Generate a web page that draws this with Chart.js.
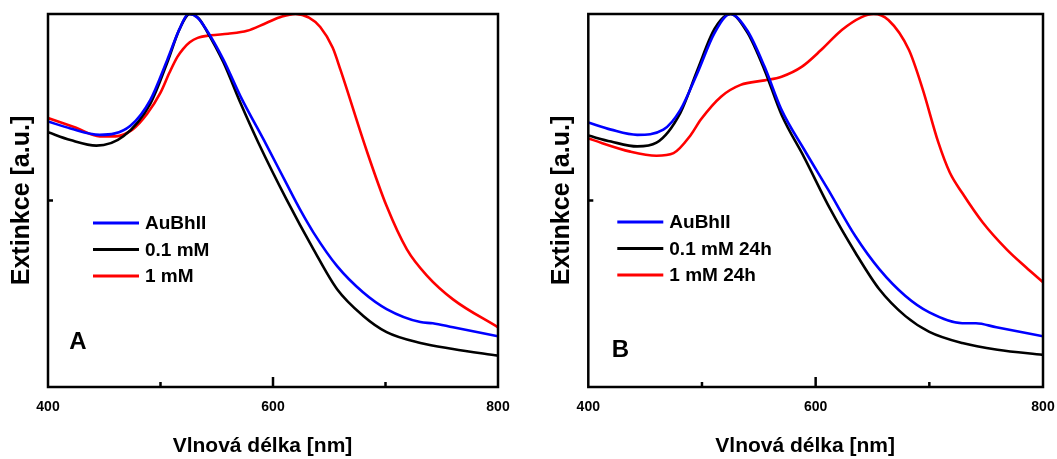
<!DOCTYPE html>
<html>
<head>
<meta charset="utf-8">
<script src="https://cdn.jsdelivr.net/npm/chart.js@4/dist/chart.umd.min.js"></script>
<style>
  html, body { margin: 0; padding: 0; background: #fff; }
  .panel { position: absolute; top: 0; }
</style>
</head>
<body>
<div class="panel" style="left:0"><canvas id="chartA" width="530" height="459"></canvas></div>
<div class="panel" style="left:530px"><canvas id="chartB" width="527" height="459"></canvas></div>
<script>
// Panel A
const wlA_AuBhII = [400, 420, 446, 473, 491, 506, 517, 525, 533, 541, 556, 571, 594, 612, 624, 636, 657, 680, 701, 731, 742, 760, 800];
const extA_AuBhII = [0.712, 0.693, 0.676, 0.70, 0.77, 0.877, 0.96, 1.0, 0.99, 0.957, 0.877, 0.78, 0.65, 0.545, 0.476, 0.414, 0.324, 0.254, 0.209, 0.174, 0.171, 0.160, 0.136];
const wlA_01 = [400, 420, 443, 467, 491, 506, 517, 526, 534, 541, 556, 571, 587, 612, 636, 657, 680, 701, 731, 760, 800];
const extA_01 = [0.683, 0.662, 0.647, 0.672, 0.76, 0.87, 0.96, 1.0, 0.988, 0.955, 0.87, 0.762, 0.655, 0.503, 0.369, 0.262, 0.191, 0.147, 0.118, 0.102, 0.084];
const wlA_1 = [400, 425, 446, 460, 475, 488, 500, 508, 515, 520, 526, 533, 545, 560, 577, 594, 608, 620, 632, 642, 653, 660, 683, 701, 719, 737, 760, 800];
const extA_1 = [0.721, 0.695, 0.672, 0.672, 0.69, 0.732, 0.789, 0.843, 0.885, 0.906, 0.924, 0.936, 0.943, 0.947, 0.955, 0.976, 0.993, 1.0, 0.99, 0.965, 0.91, 0.85, 0.636, 0.485, 0.369, 0.298, 0.235, 0.16];

// Panel B
const wlB_AuBhII = [400, 420, 443, 466, 481, 496, 511, 525, 540, 555, 570, 590, 611, 635, 656, 679, 700, 729, 741, 759, 800];
const extB_AuBhII = [0.709, 0.69, 0.676, 0.69, 0.743, 0.842, 0.949, 1.0, 0.955, 0.859, 0.743, 0.636, 0.529, 0.404, 0.316, 0.244, 0.2, 0.171, 0.171, 0.16, 0.136];
const wlB_01 = [400, 420, 443, 460, 481, 496, 511, 525, 540, 555, 570, 590, 613, 635, 656, 679, 700, 729, 760, 800];
const extB_01 = [0.674, 0.658, 0.645, 0.655, 0.735, 0.85, 0.96, 1.0, 0.95, 0.85, 0.73, 0.615, 0.476, 0.36, 0.262, 0.19, 0.148, 0.118, 0.1, 0.086];
const wlB_1 = [400, 437, 460, 475, 490, 499, 517, 534, 555, 570, 588, 605, 623, 640, 651, 664, 682, 694, 708, 718, 729, 747, 768, 785, 800];
const extB_1 = [0.666, 0.631, 0.620, 0.627, 0.675, 0.717, 0.779, 0.81, 0.822, 0.832, 0.859, 0.904, 0.957, 0.991, 1.0, 0.984, 0.904, 0.80, 0.655, 0.575, 0.52, 0.441, 0.369, 0.321, 0.281];

const labelsA = ['AuBhII', '0.1 mM', '1 mM'];
const labelsB = ['AuBhII', '0.1 mM 24h', '1 mM 24h'];
const xTickLabels = [400, 600, 800];
const colors = ['#0000ff', '#000000', '#ff0000'];
const FONT = 'Arial, "Liberation Sans", sans-serif';

function pts(xs, ys) {
    return xs.map((x, i) => ({ x: x, y: ys[i] }));
}

// frame, inward ticks, legend and panel letter
const framePlugin = {
    id: 'frame',
    afterDraw(chart, args, opts) {
        const ctx = chart.ctx;
        const a = chart.chartArea;
        const xs = chart.scales.x, ys = chart.scales.y;
        ctx.save();
        ctx.strokeStyle = '#000';
        ctx.lineWidth = 2.5;
        ctx.strokeRect(a.left, a.top, a.right - a.left, a.bottom - a.top);
        // x ticks (inward)
        [[500, 5], [600, 10], [700, 5]].forEach(([v, len]) => {
            const px = xs.getPixelForValue(v);
            ctx.beginPath();
            ctx.moveTo(px, a.bottom);
            ctx.lineTo(px, a.bottom - len);
            ctx.stroke();
        });
        // y tick
        const py = ys.getPixelForValue(0.5);
        ctx.beginPath();
        ctx.moveTo(a.left, py);
        ctx.lineTo(a.left + 5, py);
        ctx.stroke();

        // legend
        ctx.font = 'bold 19px ' + FONT;
        ctx.textBaseline = 'middle';
        ctx.textAlign = 'left';
        chart.data.datasets.forEach((ds, i) => {
            const y = a.top + opts.legY + i * 26.5;
            ctx.strokeStyle = ds.borderColor;
            ctx.lineWidth = 3;
            ctx.beginPath();
            ctx.moveTo(a.left + opts.legX, y);
            ctx.lineTo(a.left + opts.legX + 46, y);
            ctx.stroke();
            ctx.fillStyle = '#000';
            ctx.fillText(ds.label, a.left + opts.legX + 52, y + 1);
        });

        // panel letter
        ctx.font = 'bold 24px ' + FONT;
        ctx.textAlign = 'center';
        ctx.fillText(opts.letter, a.left + opts.letX, a.top + opts.letY);
        ctx.restore();
    }
};

function makeChart(id, series, labels, pad, titlePad, frameOpts) {
    return new Chart(document.getElementById(id), {
        type: 'line',
        data: {
            datasets: series.map((s, i) => ({
                label: labels[i],
                data: pts(s[0], s[1]),
                borderColor: colors[i],
                borderWidth: 2.6,
                pointRadius: 0,
                fill: false,
                cubicInterpolationMode: 'monotone'
            }))
        },
        options: {
            responsive: false,
            animation: false,
            layout: { padding: pad },
            plugins: {
                legend: { display: false },
                tooltip: { enabled: false },
                frame: frameOpts
            },
            scales: {
                x: {
                    type: 'linear',
                    min: 400,
                    max: 800,
                    grid: { display: false, drawTicks: false },
                    border: { display: false },
                    afterFit(scale) {
                        scale.paddingLeft = 0;
                        scale.paddingRight = 0;
                    },
                    ticks: {
                        stepSize: 100,
                        padding: 12,
                        maxRotation: 0,
                        autoSkip: false,
                        color: '#000',
                        font: { family: FONT, size: 14, weight: 'bold' },
                        callback: v => xTickLabels.includes(v) ? String(v) : ''
                    },
                    title: {
                        display: true,
                        // trailing em space nudges the centred title a little left
                        text: 'Vlnová délka [nm]\u2003',
                        color: '#000',
                        font: { family: FONT, size: 21, weight: 'bold' },
                        padding: { top: 6, bottom: 0 }
                    }
                },
                y: {
                    min: 0,
                    max: 1,
                    grid: { display: false, drawTicks: false },
                    border: { display: false },
                    ticks: { display: false },
                    title: {
                        display: true,
                        text: 'Extinkce [a.u.]',
                        color: '#000',
                        font: { family: FONT, size: 25, weight: 'bold' },
                        padding: titlePad
                    }
                }
            }
        },
        plugins: [framePlugin]
    });
}

makeChart('chartA',
    [[wlA_AuBhII, extA_AuBhII], [wlA_01, extA_01], [wlA_1, extA_1]],
    labelsA,
    { left: 4, right: 32, top: 14, bottom: 0 },
    { top: 3, bottom: 11 },
    { legX: 45, legY: 209, letX: 30, letY: 328, letter: 'A' });

makeChart('chartB',
    [[wlB_AuBhII, extB_AuBhII], [wlB_01, extB_01], [wlB_1, extB_1]],
    labelsB,
    { left: 4, right: 14, top: 14, bottom: 0 },
    { top: 13, bottom: 11.3 },
    { legX: 29, legY: 208, letX: 32, letY: 336, letter: 'B' });
</script>
</body>
</html>
